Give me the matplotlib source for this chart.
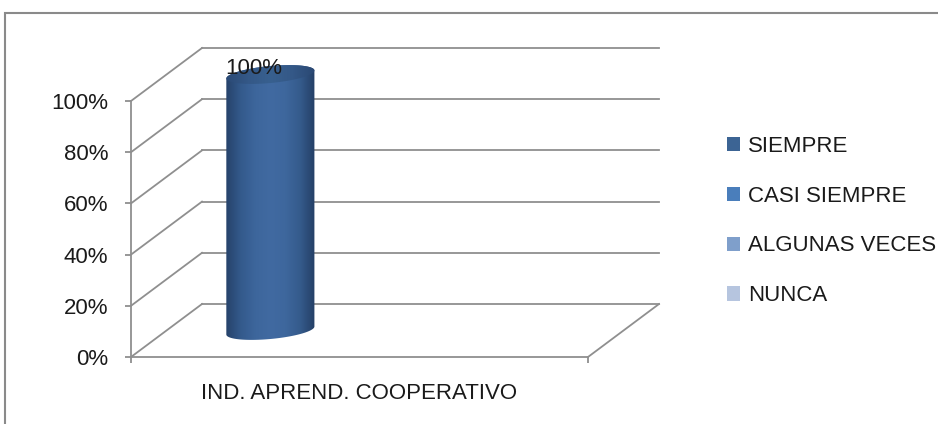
import numpy as np
import matplotlib
matplotlib.use("Agg")
import matplotlib.pyplot as plt
from matplotlib import font_manager
from matplotlib.patches import Patch, Rectangle, Polygon

nombres_fuentes = {f.name for f in font_manager.fontManager.ttflist}
if "Liberation Sans Narrow" in nombres_fuentes:
    plt.rcParams['font.family'] = ['Liberation Sans Narrow', 'DejaVu Sans']
    fs = 18
else:
    plt.rcParams['font.family'] = ['Liberation Sans', 'DejaVu Sans']
    fs = 16

categoria = "IND. APREND. COOPERATIVO"
series = ["SIEMPRE", "CASI SIEMPRE", "ALGUNAS VECES", "NUNCA"]
valores = [1.00, 0.0, 0.0, 0.0]
colores = ["#3C6494", "#4A7EBB", "#7F9FCB", "#B6C5DF"]
yticks = [0, 0.2, 0.4, 0.6, 0.8, 1.0]
ytick_labels = ["0%", "20%", "40%", "60%", "80%", "100%"]

W, H = 938, 424
fig = plt.figure(figsize=(W / 100, H / 100), dpi=100)

# front plane of the 3d box
ax_l, ax_r, ax_t, ax_b = 131, 588, 101, 357
ax = fig.add_axes([ax_l / W, (H - ax_b) / H, (ax_r - ax_l) / W, (ax_b - ax_t) / H])
ax.patch.set_visible(False)

# depth offset in axes units
dx = 71 / (ax_r - ax_l)
dy = 53 / (ax_b - ax_t)
gris = "#8f8f8f"

# back wall gridlines + left wall diagonals
for v in yticks:
    ax.plot([dx, 1 + dx], [v + dy, v + dy], color=gris, lw=1.3, clip_on=False)
    ax.plot([0, dx], [v, v + dy], color=gris, lw=1.3, clip_on=False)
# floor
ax.plot([0, 1], [0, 0], color=gris, lw=1.3, clip_on=False)
ax.plot([1, 1 + dx], [0, dy], color=gris, lw=1.3, clip_on=False)

for s in ["top", "right", "bottom"]:
    ax.spines[s].set_visible(False)
ax.spines["left"].set_color(gris)
ax.spines["left"].set_linewidth(1.3)

# cylinders (3d clustered, gap width 150%)
gap = 1.5
slot = 1 / (len(series) + gap)
diam = slot * 1.06
eh = 8.5 / (ax_b - ax_t)     # ellipse half height
tilt = 4 / (ax_b - ax_t)
cmap = matplotlib.colors.LinearSegmentedColormap.from_list(
    "cil", ["#26426A", "#345A8C", "#3D669C", "#416AA1", "#3E679D", "#355B8C", "#243F66"])
cmap_top = matplotlib.colors.LinearSegmentedColormap.from_list(
    "tapa", ["#2B4A76", "#345887", "#38608F", "#345887", "#2A4873"])

t = np.linspace(0, 2 * np.pi, 200)
for i, (nombre, v) in enumerate(zip(series, valores)):
    if v <= 0:
        continue
    xc = (gap / 2 + i + 0.5) * slot + dx / 2
    y0 = dy / 2
    y1 = v + dy / 2
    a = diam / 2

    def elipse(yc, tt):
        return xc + a * np.cos(tt), yc + eh * np.sin(tt) + tilt * np.cos(tt)

    # body: upper half of top ellipse + lower half of bottom ellipse
    xt, yt = elipse(y1, np.linspace(0, np.pi, 100))
    xb, yb = elipse(y0, np.linspace(np.pi, 2 * np.pi, 100))
    verts = np.column_stack([np.concatenate([xt, xb]), np.concatenate([yt, yb])])
    body = Polygon(verts, closed=True, transform=ax.transData, facecolor="none",
                   edgecolor="none")
    ax.add_patch(body)
    grad = np.linspace(0, 1, 256).reshape(1, -1)
    im = ax.imshow(grad, cmap=cmap, aspect="auto",
                   extent=[xc - a, xc + a, y0 - eh - tilt, y1 + eh + tilt],
                   origin="lower", zorder=3)
    im.set_clip_box(fig.bbox)
    im.set_clip_path(body)

    xe, ye = elipse(y1, t)
    top = Polygon(np.column_stack([xe, ye]), closed=True, transform=ax.transData,
                  facecolor="none", edgecolor="none")
    ax.add_patch(top)
    im2 = ax.imshow(grad, cmap=cmap_top, aspect="auto",
                    extent=[xc - a, xc + a, y1 - eh - tilt, y1 + eh + tilt],
                    origin="lower", zorder=4)
    im2.set_clip_box(fig.bbox)
    im2.set_clip_path(top)

    ax.annotate("{:.0%}".format(v), (xc - a * 0.38, y1), xytext=(0, -3),
                textcoords="offset points", ha="center", va="bottom",
                fontsize=fs, color="#1a1a1a", zorder=5, annotation_clip=False)

ax.set_xlim(0, 1)
ax.set_ylim(0, 1)
ax.set_yticks(yticks)
ax.set_yticklabels(ytick_labels)
ax.tick_params(axis="y", length=4.5, width=1.3, color=gris, pad=12, labelsize=fs,
               labelcolor="#1a1a1a")
ax.set_xticks([0, 1])
ax.set_xticklabels(["", ""])
ax.tick_params(axis="x", length=4.5, width=1.3, color=gris)
ax.text(0.5, -0.1, categoria, transform=ax.transAxes, ha="center", va="top",
        fontsize=fs, color="#1a1a1a")

# legend
handles = [Patch(facecolor=c, edgecolor="none") for c in colores]
fig.legend(handles, series, loc="center left", bbox_to_anchor=(727 / W, (H - 221) / H),
           frameon=False, fontsize=fs, borderpad=0, borderaxespad=0,
           handlelength=0.6, handleheight=0.6, handletextpad=0.35,
           labelspacing=1.3, labelcolor="#1a1a1a")

# chart border
fig.patches.append(Rectangle((5 / W, -0.1), 1.0, (H - 13) / H + 0.1,
                             transform=fig.transFigure, fill=False,
                             edgecolor="#8a8a8a", lw=1.5))

fig.savefig("out.png", dpi=100)
